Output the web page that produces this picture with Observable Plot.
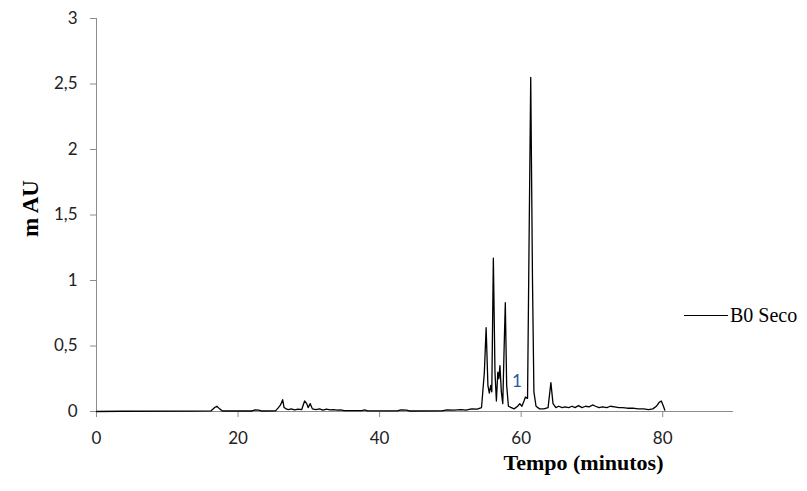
<!DOCTYPE html>
<html>
<head>
<meta charset="utf-8">
<script src="https://cdn.jsdelivr.net/npm/d3@7"></script>
<script src="https://cdn.jsdelivr.net/npm/@observablehq/plot@0.6"></script>
<style>
  html, body { margin: 0; padding: 0; background: #fff; }
  #wrap { position: relative; width: 807px; height: 491px; }
  #legend { position: absolute; left: 684px; top: 304px; display: flex; align-items: center;
            font: 20px "Liberation Serif", "Times New Roman", serif; color: #000; white-space: nowrap; }
  #legend .sw { width: 44px; height: 0; border-top: 1.5px solid #000; margin-right: 2px; }
</style>
</head>
<body>
<div id="wrap"><div id="legend"><span class="sw"></span><span>B0 Seco</span></div></div>
<script>
// Chromatogram trace
const times = [0, 3.5, 13.5, 16.2, 16.7, 17.0, 17.4, 17.8, 22.0, 22.4, 22.9, 23.3,
  25.3, 25.7, 26.0, 26.3, 26.5, 26.8, 27.1, 27.5, 28.0, 28.5, 29.0, 29.4, 29.7, 29.9,
  30.2, 30.5, 31.0, 31.5, 32.0, 32.5, 33.0, 33.5, 34.0, 34.5, 35.0, 37.5, 37.9, 38.3,
  42.5, 43.0, 43.8, 44.2, 48.8, 49.5, 50.5, 51.5, 52.2, 53.0, 53.8, 54.4, 54.8, 55.05,
  55.3, 55.5, 55.7, 55.85, 56.07, 56.3, 56.5, 56.7, 56.85, 57.0, 57.2, 57.4, 57.6, 57.76,
  57.95, 58.2, 58.6, 59.0, 59.5, 59.8, 60.1, 60.4, 60.6, 60.9, 61.1, 61.35, 61.6, 61.8,
  62.1, 62.6, 63.2, 63.8, 64.2, 64.5, 64.9, 65.3, 65.8, 66.2, 66.7, 67.2, 67.6, 68.1,
  68.6, 69.1, 69.6, 70.1, 70.5, 71.0, 71.5, 72.1, 72.6, 73.2, 73.8, 74.3, 75.0, 75.8,
  76.5, 77.3, 78.0, 78.6, 79.1, 79.5, 79.8, 80.1, 80.3];
const absorbance = [0, 0.002, 0.003, 0.005, 0.03, 0.04, 0.02, 0.004, 0.004, 0.012, 0.01, 0.004,
  0.005, 0.03, 0.05, 0.09, 0.03, 0.02, 0.015, 0.02, 0.012, 0.018, 0.015, 0.08, 0.06, 0.03,
  0.06, 0.02, 0.015, 0.02, 0.01, 0.018, 0.012, 0.015, 0.01, 0.012, 0.006, 0.006, 0.012, 0.005,
  0.005, 0.012, 0.01, 0.004, 0.005, 0.012, 0.01, 0.015, 0.01, 0.02, 0.018, 0.03, 0.3, 0.64,
  0.2, 0.14, 0.2, 0.15, 1.17, 0.3, 0.08, 0.3, 0.25, 0.35, 0.15, 0.06, 0.5, 0.83,
  0.2, 0.04, 0.03, 0.02, 0.04, 0.06, 0.04, 0.08, 0.11, 0.1, 1.2, 2.55, 1.0, 0.15,
  0.04, 0.02, 0.02, 0.03, 0.22, 0.06, 0.03, 0.04, 0.03, 0.035, 0.03, 0.04, 0.03, 0.045,
  0.03, 0.04, 0.035, 0.05, 0.04, 0.03, 0.035, 0.03, 0.04, 0.035, 0.03, 0.03, 0.025, 0.025,
  0.02, 0.02, 0.015, 0.02, 0.04, 0.07, 0.08, 0.04, 0.01];
const xTicks = [0, 20, 40, 60, 80];
const yTicks = [0, 0.5, 1, 1.5, 2, 2.5, 3];
const peakLabels = ["1"];
const peakTimes = [59.4];
const peakValues = [0.23];
const xTitle = "Tempo (minutos)";
const yTitle = "m AU";

const trace = times.map((t, i) => ({t, v: absorbance[i]}));
const peaks = peakLabels.map((l, i) => ({l, t: peakTimes[i], v: peakValues[i]}));

const chart = Plot.plot({
  width: 807,
  height: 491,
  marginLeft: 96,
  marginRight: 74,
  marginTop: 18,
  marginBottom: 80,
  style: {background: "#fff", overflow: "visible"},
  x: {domain: [0, 90]},
  y: {domain: [0, 3]},
  marks: [
    Plot.ruleX([0], {stroke: "#8c8c8c", strokeWidth: 1}),
    Plot.ruleY([0], {stroke: "#8c8c8c", strokeWidth: 1}),
    Plot.axisY({ticks: yTicks, tickSize: 6, tickPadding: 13, stroke: "#8c8c8c", fill: "#222",
      fontSize: 17, fontFamily: "Lato, sans-serif", label: null,
      tickFormat: d => String(d).replace(".", ",")}),
    Plot.axisX({ticks: xTicks, tickSize: 6, tickPadding: 14, stroke: "#8c8c8c", fill: "#222",
      fontSize: 17, fontFamily: "Lato, sans-serif", label: null}),
    Plot.line(trace, {x: "t", y: "v", stroke: "#000", strokeWidth: 1.3}),
    Plot.text(peaks, {x: "t", y: "v", text: "l", fill: "#1d5aa0", fontSize: 17, fontFamily: "Lato, sans-serif"}),
    Plot.text([xTitle], {frameAnchor: "bottom-right", text: d => d, textAnchor: "end", dx: -70, dy: 58,
      fontSize: 22, fontWeight: "bold", fontFamily: "Liberation Serif, serif", fill: "#000"}),
    Plot.text([yTitle], {frameAnchor: "left", text: d => d, rotate: -90, dx: -66, dy: 22,
      fontSize: 23, fontWeight: "bold", fontFamily: "Liberation Serif, serif", fill: "#000"})
  ]
});
document.getElementById("wrap").prepend(chart);
</script>
</body>
</html>
